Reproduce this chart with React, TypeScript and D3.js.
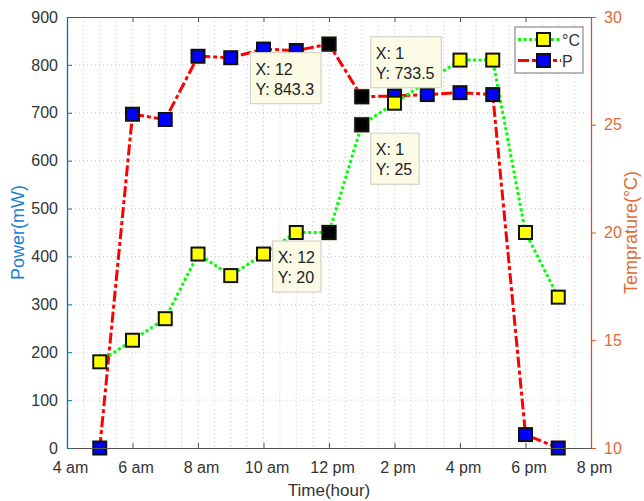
import React, { useEffect, useRef } from 'react';
import * as d3 from 'd3';

// power series (red dashed, blue squares)
const powerHours = [5, 6, 7, 8, 9, 10, 11, 12, 13, 14, 15, 16, 17, 18, 19];
const powerMW = [0, 697, 686, 818, 815, 833, 830, 843.3, 733.5, 735, 738, 742, 738, 28, 0];

// temperature series (green dotted, yellow squares)
const tempHours = [5, 6, 7, 8, 9, 10, 11, 12, 13, 14, 16, 17, 18, 19];
const tempC = [14, 15, 16, 19, 18, 19, 20, 20, 25, 26, 28, 28, 20, 17];

const xTicks = [4, 6, 8, 10, 12, 14, 16, 18, 20];
const xTickLabels = ['4 am', '6 am', '8 am', '10 am', '12 pm', '2 pm', '4 pm', '6 pm', '8 pm'];
const powerTicks = [0, 100, 200, 300, 400, 500, 600, 700, 800, 900];
const tempTicks = [10, 15, 20, 25, 30];

// data tips: series, hour, label x, placement
const tips = [
  { series: 'P', hour: 12, xLabel: '12', place: 'll' },
  { series: 'P', hour: 13, xLabel: '1', place: 'ur' },
  { series: 'T', hour: 13, xLabel: '1', place: 'lr' },
  { series: 'T', hour: 12, xLabel: '12', place: 'll' },
];

const FONT = '"Liberation Sans", Arial, Helvetica, sans-serif';
const BLUE_AX = '#0072BD';
const ORANGE_AX = '#D95319';
const TXT = '#333333';

const charW: Record<string, number> = { ' ': 0.278, ':': 0.278, '.': 0.278, X: 0.667, Y: 0.667 };
const textWidth = (s: string, size: number) =>
  s.split('').reduce((a, c) => a + (charW[c] ?? 0.556), 0) * size;

const App = () => {
  const svgRef = useRef<SVGSVGElement>(null);

  useEffect(() => {
    const W = 644;
    const H = 501;
    const m = { left: 67, right: 53, top: 17, bottom: 53 };
    const iw = W - m.left - m.right;
    const ih = H - m.top - m.bottom;

    const svg = d3.select(svgRef.current).attr('width', W).attr('height', H);
    svg.selectAll('*').remove();

    const g = svg.append('g').attr('transform', `translate(${m.left},${m.top})`);

    const x = d3.scaleLinear().domain([4, 20]).range([0, iw]);
    const yP = d3.scaleLinear().domain([0, 900]).range([ih, 0]);
    const yT = d3.scaleLinear().domain([10, 30]).range([ih, 0]);

    // grid
    const grid = g.append('g');
    d3.range(4.5, 20, 0.5).forEach(h => {
      grid.append('line')
        .attr('x1', x(h)).attr('x2', x(h)).attr('y1', 0).attr('y2', ih)
        .attr('stroke', '#c4c4c4').attr('stroke-width', 1).attr('stroke-dasharray', '1,3');
    });
    powerTicks.slice(1, -1).forEach(v => {
      grid.append('line')
        .attr('x1', 0).attr('x2', iw).attr('y1', yP(v)).attr('y2', yP(v))
        .attr('stroke', '#b9d3e8').attr('stroke-width', 1).attr('stroke-dasharray', '1,3');
    });

    const pData = powerHours.map((h, i) => ({ h, v: powerMW[i] }));
    const tData = tempHours.map((h, i) => ({ h, v: tempC[i] }));

    const lineP = d3.line<{ h: number; v: number }>().x(d => x(d.h)).y(d => yP(d.v));
    const lineT = d3.line<{ h: number; v: number }>().x(d => x(d.h)).y(d => yT(d.v));

    g.append('path').datum(pData)
      .attr('fill', 'none').attr('stroke', '#ff0000').attr('stroke-width', 3)
      .attr('stroke-dasharray', '11,3,4,3').attr('d', lineP);
    g.append('path').datum(tData)
      .attr('fill', 'none').attr('stroke', '#00ff00').attr('stroke-width', 3)
      .attr('stroke-dasharray', '3,2.5').attr('d', lineT);

    const S = 13;
    const tipKeys = new Set(tips.map(t => `${t.series}${t.hour}`));
    const marker = (sel: any, cx: number, cy: number, fill: string, tip: boolean) => {
      if (tip) {
        sel.append('rect')
          .attr('x', cx - S / 2 - 1.5).attr('y', cy - S / 2 - 1.5)
          .attr('width', S + 3).attr('height', S + 3)
          .attr('fill', '#b8b8a4');
      }
      sel.append('rect')
        .attr('x', cx - S / 2).attr('y', cy - S / 2)
        .attr('width', S).attr('height', S)
        .attr('fill', tip ? '#000' : fill)
        .attr('stroke', '#111').attr('stroke-width', 2);
    };

    pData.forEach(d => marker(g, x(d.h), yP(d.v), '#0000ff', tipKeys.has(`P${d.h}`)));
    tData.forEach(d => marker(g, x(d.h), yT(d.v), '#ffff00', tipKeys.has(`T${d.h}`)));

    // data tips
    const fs = 16;
    tips.forEach(t => {
      const isP = t.series === 'P';
      const idx = isP ? powerHours.indexOf(t.hour) : tempHours.indexOf(t.hour);
      const val = isP ? powerMW[idx] : tempC[idx];
      const px = x(t.hour);
      const py = isP ? yP(val) : yT(val);
      const l1 = `X: ${t.xLabel}`;
      const l2 = `Y: ${val}`;
      const bw = Math.max(textWidth(l1, fs), textWidth(l2, fs)) + 11;
      const bh = 51;
      const bx = t.place.endsWith('l') ? px - 8 - bw : px + 9;
      const by = t.place.startsWith('l') ? py + 8.5 : py - 9 - bh;
      const tg = g.append('g');
      tg.append('rect').attr('x', bx).attr('y', by).attr('width', bw).attr('height', bh)
        .attr('fill', '#fbfbe6').attr('stroke', '#d4d4c8').attr('stroke-width', 1.2);
      tg.append('text').attr('x', bx + 5).attr('y', by + 22)
        .attr('font-family', FONT).attr('font-size', fs).attr('fill', '#222').text(l1);
      tg.append('text').attr('x', bx + 5).attr('y', by + 42)
        .attr('font-family', FONT).attr('font-size', fs).attr('fill', '#222').text(l2);
    });

    // axes
    const bottom = g.append('g').attr('transform', `translate(0,${ih})`)
      .call(d3.axisBottom(x).tickValues(xTicks).tickSizeInner(-5).tickSizeOuter(0)
        .tickFormat((_d, i) => xTickLabels[i]).tickPadding(14));
    bottom.select('.domain').attr('stroke', '#555');
    bottom.selectAll('line').attr('stroke', '#555');
    bottom.selectAll('text').attr('font-family', FONT).attr('font-size', 16).attr('fill', TXT).attr('dx', 3);

    const top = g.append('g')
      .call(d3.axisTop(x).tickValues(xTicks).tickSizeInner(-5).tickSizeOuter(0).tickFormat(() => ''));
    top.select('.domain').attr('stroke', '#555');
    top.selectAll('line').attr('stroke', '#555');

    const left = g.append('g')
      .call(d3.axisLeft(yP).tickValues(powerTicks).tickSizeInner(-5).tickSizeOuter(0).tickPadding(9));
    left.select('.domain').attr('stroke', BLUE_AX).attr('stroke-width', 1.3);
    left.selectAll('line').attr('stroke', BLUE_AX);
    left.selectAll('text').attr('font-family', FONT).attr('font-size', 16).attr('fill', TXT);

    const right = g.append('g').attr('transform', `translate(${iw},0)`)
      .call(d3.axisRight(yT).tickValues(tempTicks).tickSizeInner(5).tickSizeOuter(0).tickPadding(8));
    right.select('.domain').attr('stroke', ORANGE_AX).attr('stroke-width', 1.3);
    right.selectAll('line').attr('stroke', ORANGE_AX);
    right.selectAll('text').attr('font-family', FONT).attr('font-size', 16).attr('fill', '#e06a35');

    // axis titles
    svg.append('text')
      .attr('x', m.left + iw / 2).attr('y', H - 5)
      .attr('text-anchor', 'middle').attr('font-family', FONT).attr('font-size', 17).attr('fill', TXT)
      .text('Time(hour)');
    svg.append('text')
      .attr('transform', `translate(24,${m.top + ih / 2}) rotate(-90)`)
      .attr('text-anchor', 'middle').attr('font-family', FONT).attr('font-size', 18).attr('fill', '#1a7fd0')
      .text('Power(mW)');
    svg.append('text')
      .attr('transform', `translate(${W - 7},${m.top + ih / 2}) rotate(-90)`)
      .attr('text-anchor', 'middle').attr('font-family', FONT).attr('font-size', 18).attr('fill', '#e06a35')
      .text('Temprature(°C)');

    // legend
    const lg = svg.append('g').attr('transform', 'translate(515,27)');
    lg.append('rect').attr('width', 68).attr('height', 46)
      .attr('fill', '#fff').attr('stroke', '#8a8a8a').attr('stroke-width', 1.2);
    const entries = [
      { label: '°C', color: '#00ff00', dash: '3,2.5', fill: '#ffff00' },
      { label: 'P', color: '#ff0000', dash: '11,3,4,3', fill: '#0000ff' },
    ];
    entries.forEach((e, i) => {
      const cy = 12.5 + i * 21;
      lg.append('line').attr('x1', 3).attr('x2', 46).attr('y1', cy).attr('y2', cy)
        .attr('stroke', e.color).attr('stroke-width', 3).attr('stroke-dasharray', e.dash);
      marker(lg, 28.5, cy, e.fill, false);
      lg.append('text').attr('x', 47).attr('y', cy + 6)
        .attr('font-family', FONT).attr('font-size', 16).attr('fill', TXT).text(e.label);
    });
  }, []);

  return <svg ref={svgRef} style={{ position: 'absolute', left: 0, top: 0 }}></svg>;
};

export default App;
